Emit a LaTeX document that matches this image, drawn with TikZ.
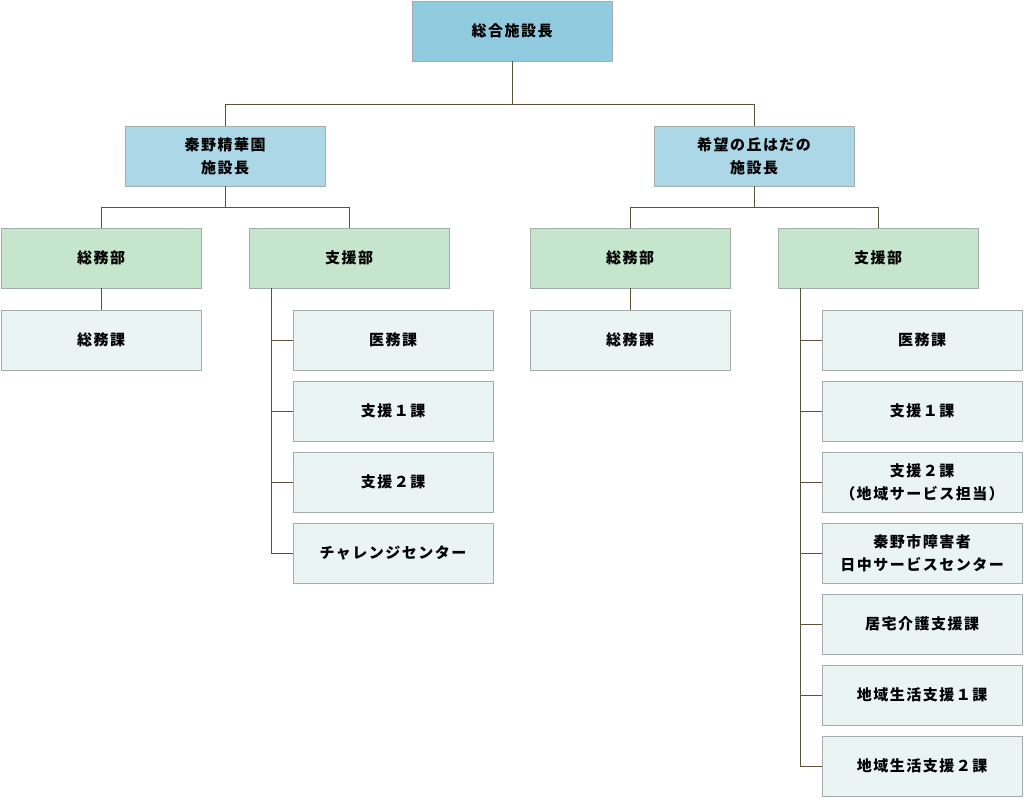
\documentclass[tikz,border=0pt]{standalone}
\usepackage{fontspec}
\setmainfont{Noto Sans CJK JP}[LetterSpace=10]
\usepackage{tikz}
\usetikzlibrary{positioning}
\definecolor{chiefblue}{HTML}{90CBE0}
\definecolor{headblue}{HTML}{ABD7E6}
\definecolor{deptgreen}{HTML}{C5E6CC}
\definecolor{secpale}{HTML}{EAF5F3}
\definecolor{boxline}{HTML}{A4ACAC}
\definecolor{wire}{HTML}{5B5238}
\tikzstyle{unit}=[rectangle, draw=boxline, line width=1pt, minimum width=200pt, minimum height=60pt,
        inner sep=0pt, outer sep=0pt, align=center, font=\fontsize{15}{23}\selectfont\bfseries]
\tikzstyle{chief}=[unit, fill=chiefblue]
\tikzstyle{head}=[unit, fill=headblue]
\tikzstyle{dept}=[unit, fill=deptgreen]
\tikzstyle{section}=[unit, fill=secpale]
\tikzstyle{wire}=[draw=wire, line width=1pt]

\begin{document}
\begin{tikzpicture}[x=1pt, y=1pt, node distance=11pt]
        \useasboundingbox (0,0) rectangle (1024,-798);
        \node (chief) [chief] at (512,-31) {総合施設長};
        \node (seika) [head, below=65pt of chief, xshift=-287pt] {秦野精華園\\施設長};
        \node (kibou) [head, below=65pt of chief, xshift=242pt] {希望の丘はだの\\施設長};
        % seika
        \node (seikaSomu) [dept, below=42pt of seika, xshift=-124pt] {総務部};
        \node (seikaShien) [dept, below=42pt of seika, xshift=124pt] {支援部};
        \node (seikaSomuKa) [section, below=22pt of seikaSomu] {総務課};
        \node (seikaImu) [section, below=22pt of seikaShien, xshift=44pt] {医務課};
        \node (seikaShien1) [section, below=of seikaImu] {支援１課};
        \node (seikaShien2) [section, below=of seikaShien1] {支援２課};
        \node (seikaChallenge) [section, below=of seikaShien2] {チャレンジセンター};
        % kibou
        \node (kibouSomu) [dept, below=42pt of kibou, xshift=-124pt] {総務部};
        \node (kibouShien) [dept, below=42pt of kibou, xshift=124pt] {支援部};
        \node (kibouSomuKa) [section, below=22pt of kibouSomu] {総務課};
        \node (kibouImu) [section, below=22pt of kibouShien, xshift=44pt] {医務課};
        \node (kibouShien1) [section, below=of kibouImu] {支援１課};
        \node (kibouShien2) [section, below=of kibouShien1] {支援２課\\（地域サービス担当）};
        \node (kibouNicchu) [section, below=of kibouShien2] {秦野市障害者\\日中サービスセンター};
        \node (kibouKyotaku) [section, below=of kibouNicchu] {居宅介護支援課};
        \node (kibouChiiki1) [section, below=of kibouKyotaku] {地域生活支援１課};
        \node (kibouChiiki2) [section, below=of kibouChiiki1] {地域生活支援２課};

        \draw [wire] (chief.south) -- ++(0,-43) -| (seika.north);
        \draw [wire] (chief.south) -- ++(0,-43) -| (kibou.north);
        \draw [wire] (seika.south) -- ++(0,-21) -| (seikaSomu.north);
        \draw [wire] (seika.south) -- ++(0,-21) -| (seikaShien.north);
        \draw [wire] (kibou.south) -- ++(0,-21) -| (kibouSomu.north);
        \draw [wire] (kibou.south) -- ++(0,-21) -| (kibouShien.north);
        \draw [wire] (seikaSomu) -- (seikaSomuKa);
        \draw [wire] (kibouSomu) -- (kibouSomuKa);
        \foreach \sec in {seikaImu, seikaShien1, seikaShien2, seikaChallenge}
          \draw [wire] ([xshift=22pt]seikaShien.south west) |- (\sec.west);
        \foreach \sec in {kibouImu, kibouShien1, kibouShien2, kibouNicchu, kibouKyotaku, kibouChiiki1, kibouChiiki2}
          \draw [wire] ([xshift=22pt]kibouShien.south west) |- (\sec.west);
      \end{tikzpicture}
\end{document}
